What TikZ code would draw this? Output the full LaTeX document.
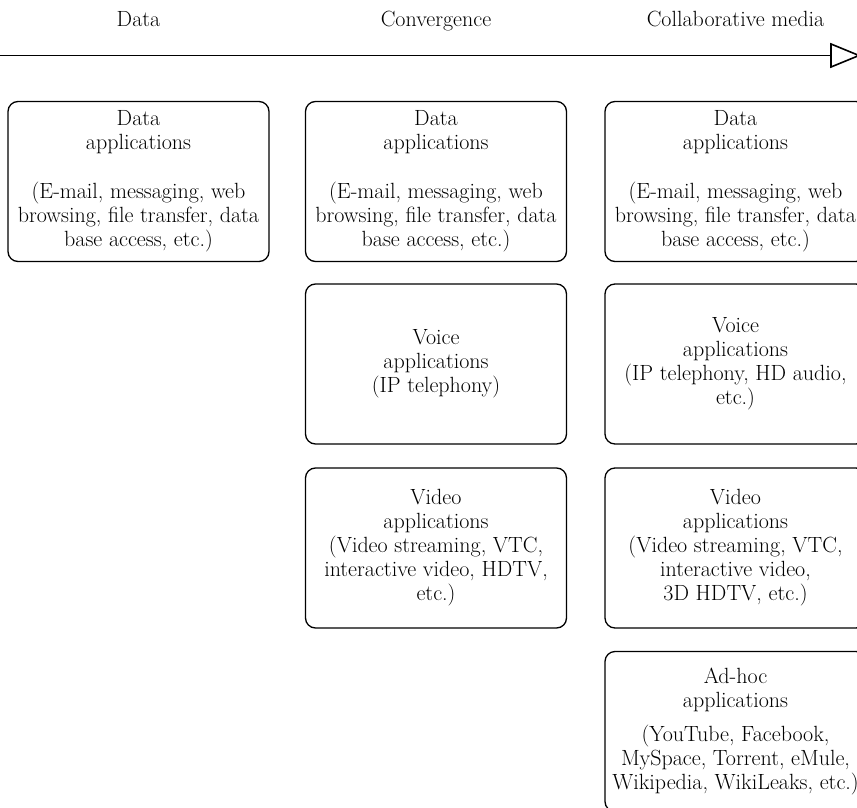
\documentclass[tikz,border=0pt]{standalone}
\begin{document}
\begin{tikzpicture}[x=1pt,y=-1pt,
  appbox/.style={draw, line width=1.3pt, rounded corners=10pt, minimum width=261pt, minimum height=160pt, inner sep=0pt, align=center, font=\fontsize{22}{24}\selectfont},
  header/.style={anchor=base, inner sep=0pt, font=\fontsize{22}{24}\selectfont}]
\useasboundingbox (0,0) rectangle (857,808);
\clip (0,0) rectangle (857,808);
% headers
\node[header] (hdata) at (138.5,27) {Data};
\node[header] (hconv) at (436,27) {Convergence};
\node[header] (hcoll) at (735.5,27) {Collaborative media};
% time axis
\coordinate (axstart) at (0,55.5);
\coordinate (axend) at (831,55.5);
\draw[line width=1.6pt] (axstart) -- (axend);
\draw[line width=1.6pt, line join=miter, fill=white] (831,44) -- (831,67) -- (859,55.5) -- cycle;
% left column
\node[appbox] (ldata) at (138.5,181.5) {Data\\applications\\[25pt](E-mail, messaging, web\\browsing, file transfer, data\\base access, etc.)};
% middle column
\node[appbox] (mdata) at (436,181.5) {Data\\applications\\[25pt](E-mail, messaging, web\\browsing, file transfer, data\\base access, etc.)};
\node[appbox] (mvoice) at (436,364) {Voice\\applications\\(IP telephony)};
\node[appbox] (mvideo) at (436,548) {Video\\applications\\(Video streaming, VTC,\\interactive video, HDTV,\\etc.)};
% right column
\node[appbox] (rdata) at (735.5,181.5) {Data\\applications\\[25pt](E-mail, messaging, web\\browsing, file transfer, data\\base access, etc.)};
\node[appbox] (rvoice) at (735.5,364) {Voice\\applications\\(IP telephony, HD audio,\\etc.)};
\node[appbox] (rvideo) at (735.5,548) {Video\\applications\\(Video streaming, VTC,\\interactive video,\\3D HDTV, etc.)};
\node[appbox] (radhoc) at (735.5,731.5) {Ad-hoc\\applications\\[10pt](YouTube, Facebook,\\MySpace, Torrent, eMule,\\Wikipedia, WikiLeaks, etc.)};
\end{tikzpicture}
\end{document}
